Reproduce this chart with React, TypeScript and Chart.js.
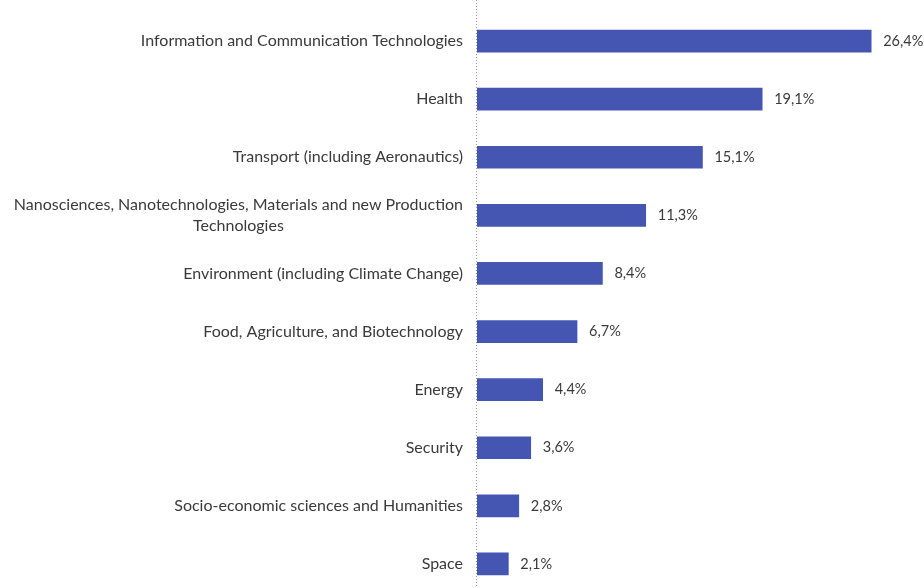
import React, { useEffect, useRef } from "react";
import { Chart, registerables } from "chart.js";

Chart.register(...registerables);

const categories: (string | string[])[] = [
  "Information and Communication Technologies",
  "Health",
  "Transport (including Aeronautics)",
  ["Nanosciences, Nanotechnologies, Materials and new Production", "Technologies"],
  "Environment (including Climate Change)",
  "Food, Agriculture, and Biotechnology",
  "Energy",
  "Security",
  "Socio-economic sciences and Humanities",
  "Space",
];
const shares = [26.4, 19.1, 15.1, 11.3, 8.4, 6.7, 4.4, 3.6, 2.8, 2.1];
const valueLabels = ["26,4%", "19,1%", "15,1%", "11,3%", "8,4%", "6,7%", "4,4%", "3,6%", "2,8%", "2,1%"];

const FONT = '16px "Lato", "Open Sans", sans-serif';
const VALUE_FONT = '14.5px "Lato", "Open Sans", sans-serif';
const TEXT = "#3a3a3a";

const labelPlugin = {
  id: "customLabels",
  afterDatasetsDraw(chart: any) {
    const ctx = chart.ctx;
    const x = chart.scales.x;
    const y = chart.scales.y;
    const x0 = x.getPixelForValue(0);
    ctx.save();
    // dotted axis line
    ctx.strokeStyle = "#9a9a9a";
    ctx.lineWidth = 1;
    ctx.setLineDash([1, 2]);
    ctx.beginPath();
    ctx.moveTo(Math.round(x0) - 0.5, 0);
    ctx.lineTo(Math.round(x0) - 0.5, chart.height);
    ctx.stroke();
    ctx.setLineDash([]);
    ctx.fillStyle = TEXT;
    ctx.textBaseline = "middle";
    categories.forEach((cat, i) => {
      const cy = y.getPixelForValue(i);
      const right = x0 - 14;
      ctx.font = FONT;
      if (Array.isArray(cat)) {
        const widths = cat.map((l) => ctx.measureText(l).width);
        const maxW = Math.max(...widths);
        const cx = right - maxW / 2;
        const lh = 21;
        ctx.textAlign = "center";
        cat.forEach((l, k) => {
          ctx.fillText(l, cx, cy + (k - (cat.length - 1) / 2) * lh);
        });
      } else {
        ctx.textAlign = "right";
        ctx.fillText(cat, right, cy);
      }
      ctx.font = VALUE_FONT;
      ctx.textAlign = "left";
      ctx.fillText(valueLabels[i], x.getPixelForValue(shares[i]) + 12, cy);
    });
    ctx.restore();
  },
};

export default function App() {
  const ref = useRef<HTMLCanvasElement>(null);
  useEffect(() => {
    if (!ref.current) return;
    const chart = new Chart(ref.current, {
      type: "bar",
      data: {
        labels: categories.map((c) => (Array.isArray(c) ? c.join(" ") : c)),
        datasets: [
          {
            data: shares,
            backgroundColor: "#4456b2",
            borderWidth: 0,
            barThickness: 22,
          },
        ],
      },
      options: {
        indexAxis: "y",
        responsive: false,
        animation: false,
        devicePixelRatio: 1,
        layout: { padding: { left: 0, top: 12, right: 14, bottom: 3 } },
        plugins: { legend: { display: false }, tooltip: { enabled: false } },
        scales: {
          x: { display: false, min: 0, max: 29 },
          y: {
            display: true,
            ticks: { display: false },
            grid: { display: false, drawTicks: false },
            border: { display: false },
            afterFit: (s: any) => {
              s.width = 477;
            },
          },
        },
      },
      plugins: [labelPlugin],
    });
    return () => chart.destroy();
  }, []);
  return (
    <div style={{ position: "fixed", left: 0, top: 0, width: 924, height: 588, overflow: "hidden", background: "#fff" }}>
      <canvas ref={ref} width={924} height={596} />
    </div>
  );
}
